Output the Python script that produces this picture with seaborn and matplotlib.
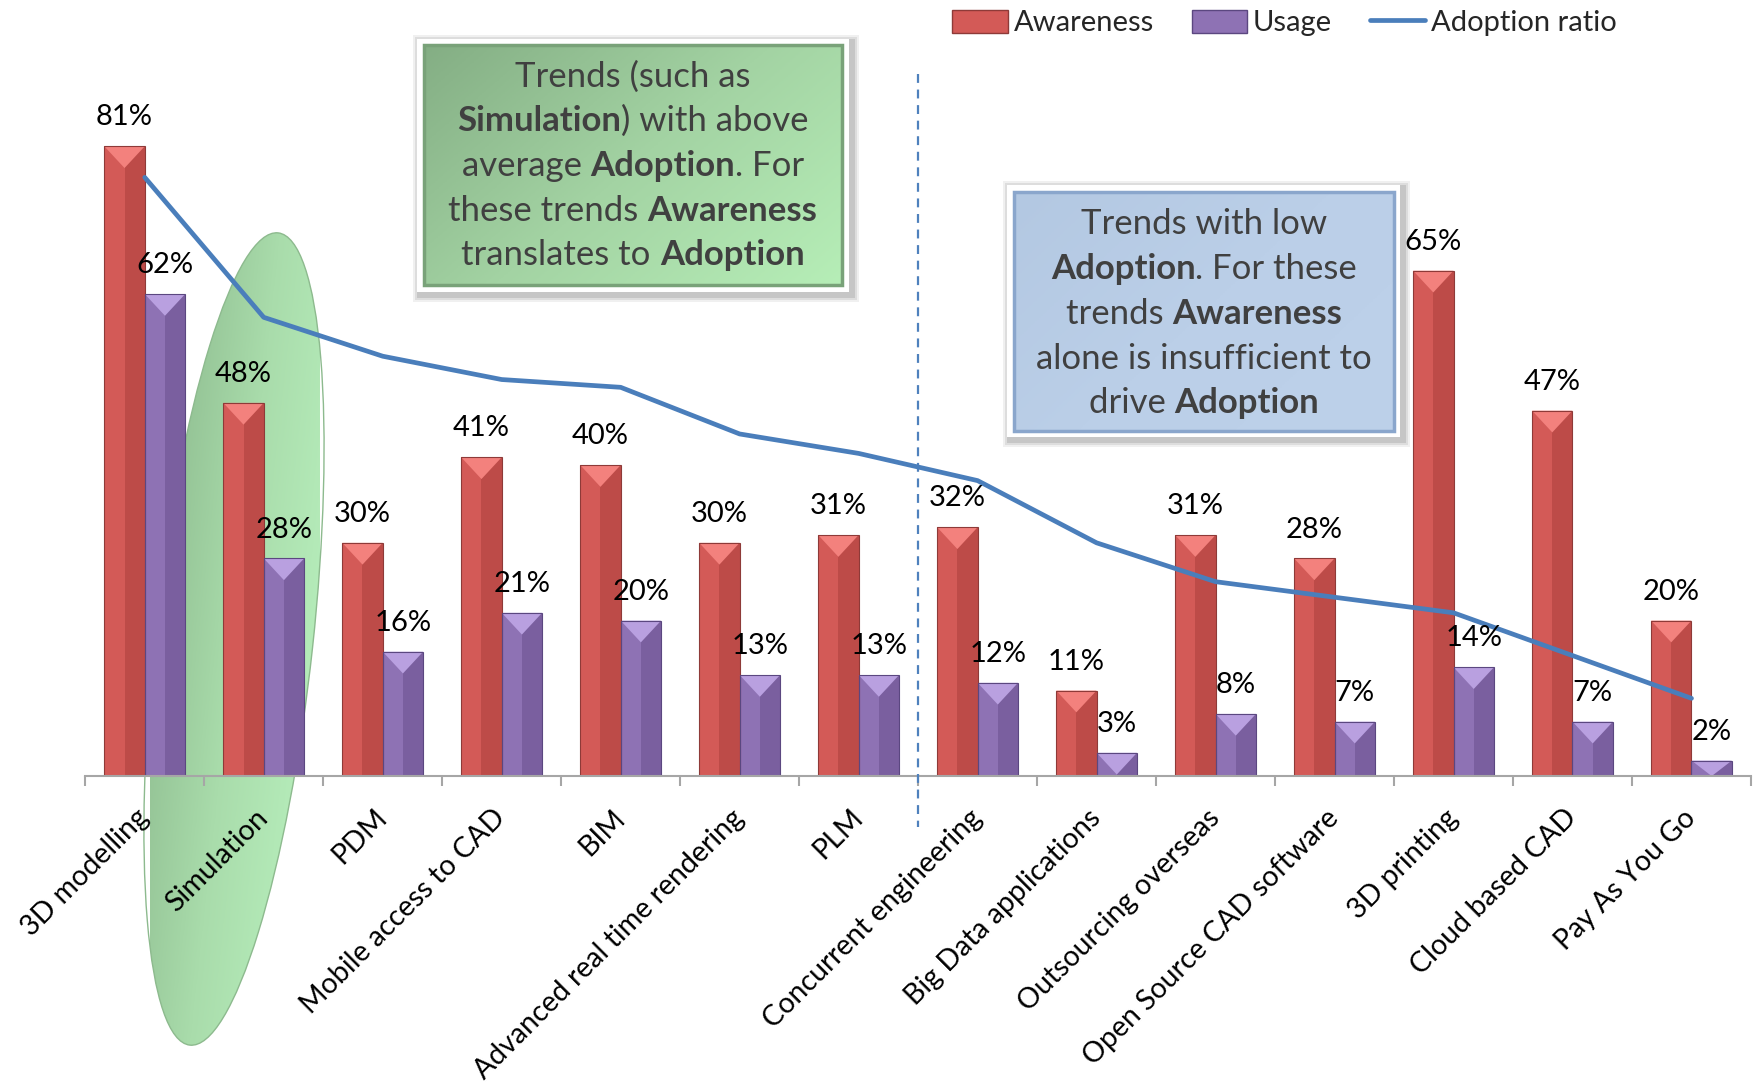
import numpy as np
import pandas as pd
import seaborn as sns
import matplotlib.pyplot as plt
from matplotlib.patches import Rectangle, Polygon, Ellipse, Patch
from matplotlib.lines import Line2D
from matplotlib.colors import LinearSegmentedColormap

# data
categories = ["3D modelling", "Simulation", "PDM", "Mobile access to CAD", "BIM",
              "Advanced real time rendering", "PLM", "Concurrent engineering",
              "Big Data applications", "Outsourcing overseas", "Open Source CAD software",
              "3D printing", "Cloud based CAD", "Pay As You Go"]
awareness = [81, 48, 30, 41, 40, 30, 31, 32, 11, 31, 28, 65, 47, 20]
usage = [62, 28, 16, 21, 20, 13, 13, 12, 3, 8, 7, 14, 7, 2]
adoption = [77, 59, 54, 51, 50, 44, 41.5, 38, 30, 25, 23, 21, 15.5, 10]

green_note = [[("Trends (such as", False)],
              [("Simulation", True), (") with above", False)],
              [("average ", False), ("Adoption", True), (". For", False)],
              [("these trends ", False), ("Awareness", True)],
              [("translates to ", False), ("Adoption", True)]]
blue_note = [[("Trends with low", False)],
             [("Adoption", True), (". For these", False)],
             [("trends ", False), ("Awareness", True)],
             [("alone is insufficient to", False)],
             [("drive ", False), ("Adoption", True)]]

W, H = 1758, 1090
n = len(categories)
RED, RED_D, RED_L = "#d35a57", "#bd4b48", "#f3817d"
PUR, PUR_D, PUR_L = "#8e72b4", "#7a5f9f", "#b9a0e0"
LINE = "#4a7ebb"
TXT = "#404040"

sns.set_theme(style="white")
plt.rcParams["font.family"] = ["Lato", "DejaVu Sans"]

fig = plt.figure(figsize=(W / 100, H / 100), dpi=100)

# background layer (pixel coords) for the highlight ellipse
bg = fig.add_axes([0, 0, 1, 1], zorder=-1)
bg.axis("off")
ell = Ellipse((234, H - 639), 817, 158, angle=83.8, facecolor="none",
              edgecolor="#8dba8e", lw=1.0)
bg.add_patch(ell)
gx, gy = np.meshgrid(np.linspace(0, 1, 200), np.linspace(0, 1, 200))
grad = 0.65 * gx + 0.35 * gy
cm_ell = LinearSegmentedColormap.from_list("ell", ["#86b287", "#a9dcab", "#bcf5c2"])
bg.imshow(grad, extent=[150, 320, H - 1050, H - 228], cmap=cm_ell,
          aspect="auto", clip_path=ell)
bg.set_xlim(0, W)
bg.set_ylim(0, H)

# main chart
ax = fig.add_axes([0.0485, 0.288, 0.9475, 0.642], zorder=1)
ax.set_facecolor("none")

df = pd.DataFrame({"trend": categories * 2,
                   "pct": awareness + usage,
                   "series": ["Awareness"] * n + ["Usage"] * n})
sns.barplot(data=df, x="trend", y="pct", hue="series",
            palette={"Awareness": RED, "Usage": PUR}, width=0.68,
            saturation=1, legend=False, ax=ax, linewidth=0)

bars = list(ax.patches)
for i, p in enumerate(bars):
    x0, w, h = p.get_x(), p.get_width(), p.get_height()
    dark, light, edge = (RED_D, RED_L, "#8e3a38") if i < n else (PUR_D, PUR_L, "#5b4780")
    ax.add_patch(Rectangle((x0 + w / 2, 0), w / 2, h, facecolor=dark, lw=0, zorder=2.1))
    d = min(2.8, h)
    ax.add_patch(Polygon([(x0, h), (x0 + w, h), (x0 + w / 2, h - d)], closed=True,
                         facecolor=light, lw=0, zorder=2.2))
    ax.add_patch(Rectangle((x0, 0), w, h, fill=False, edgecolor=edge, lw=0.8, zorder=2.3))
    ax.annotate(f"{int(h)}%", (x0 + w / 2, h), xytext=(0, 15), textcoords="offset points",
                ha="center", va="baseline", fontsize=21, color="black", zorder=6)

sns.lineplot(x=np.arange(n), y=adoption, ax=ax, color=LINE, linewidth=3.4, zorder=4)

# divider between high and low adoption
ax.plot([6.5, 6.5], [90.3, -6.6], ls=(0, (4, 3)), color="#4f81bd", lw=1.6,
        clip_on=False, zorder=3)

ax.set_xlim(-0.5, n - 0.5)
ax.set_ylim(0, 90)
ax.set_yticks([])
ax.set_xlabel("")
ax.set_ylabel("")
ax.set_xticks(np.arange(n))
ax.set_xticklabels(categories, rotation=45, ha="right", va="center",
                   rotation_mode="anchor", fontsize=20.5, color="black")
ax.set_xticks(np.arange(-0.5, n, 1), minor=True)
ax.tick_params(axis="x", which="major", length=0, pad=27)
ax.tick_params(axis="x", which="minor", bottom=True, length=7, width=1.5,
               color="#a6a6a6", direction="out")
for s in ["left", "top", "right"]:
    ax.spines[s].set_visible(False)
ax.spines["bottom"].set_color("#a6a6a6")
ax.spines["bottom"].set_linewidth(1.5)

# overlay layer for the note boxes
top = fig.add_axes([0, 0, 1, 1], zorder=5)
top.set_facecolor("none")
top.axis("off")
top.set_xlim(0, W)
top.set_ylim(0, H)

renderer = fig.canvas.get_renderer()


def text_width(s, bold, size):
    t = top.text(0, 0, s, fontsize=size, fontweight="bold" if bold else "normal")
    w = t.get_window_extent(renderer).width
    t.remove()
    return w


def rich_line(parts, xc, yc, size):
    widths = [text_width("|" + s + "|", b, size) - text_width("||", b, size) for s, b in parts]
    x = xc - sum(widths) / 2
    for (s, b), w in zip(parts, widths):
        top.text(x, H - yc - 12, s, fontsize=size, fontweight="bold" if b else "normal",
                 color=TXT, ha="left", va="baseline", zorder=4)
        x += w


def note_box(outer, inner, colors, edge, lines, centers, size):
    ox0, oy0, ox1, oy1 = outer
    ix0, iy0, ix1, iy1 = inner
    for k, a in zip([7, 5, 3], [0.06, 0.08, 0.10]):
        top.add_patch(Rectangle((ox0 - k + 3, H - oy1 - k - 3), ox1 - ox0 + 2 * k,
                                oy1 - oy0 + 2 * k, facecolor="black", alpha=a, lw=0,
                                zorder=1))
    top.add_patch(Rectangle((ox0, H - oy1), ox1 - ox0, oy1 - oy0, facecolor="white",
                            lw=0, zorder=1.2))
    clip = Rectangle((ix0, H - iy1), ix1 - ix0, iy1 - iy0, facecolor="none", lw=0,
                     transform=top.transData)
    cmap = LinearSegmentedColormap.from_list("box", colors)
    top.imshow(0.6 * gx + 0.4 * gy, extent=[ix0, ix1, H - iy1, H - iy0], cmap=cmap,
               aspect="auto", clip_path=clip, zorder=1.5)
    top.add_patch(Rectangle((ix0, H - iy1), ix1 - ix0, iy1 - iy0, facecolor="none",
                            edgecolor=edge, lw=2.5, zorder=2))
    for parts, yc in zip(lines, centers):
        rich_line(parts, (ix0 + ix1) / 2, yc, size)


note_box((417, 39, 849, 292), (424, 45, 842, 285), ["#84ae84", "#a3d3a3", "#b6eeb7"],
         "#79a279", green_note, [75, 119, 164, 209, 253], 25)
note_box((1007, 185, 1400, 437), (1014, 192, 1394, 431), ["#b3c8e2", "#bbcfe8", "#bdd1ea"],
         "#8aa6cc", blue_note, [222, 267, 312, 357, 401], 25)
top.set_xlim(0, W)
top.set_ylim(0, H)

handles = [Patch(facecolor=RED, edgecolor="#8e3a38"),
           Patch(facecolor=PUR, edgecolor="#5b4780"),
           Line2D([0], [0], color=LINE, lw=3.4)]
fig.legend(handles, ["Awareness", "Usage", "Adoption ratio"], loc="center",
           bbox_to_anchor=(0.7307, 0.979), ncol=3, frameon=False, fontsize=21,
           handlelength=1.9, handleheight=0.85, handletextpad=0.2, columnspacing=1.3)

fig.savefig("out.png", dpi=100)
